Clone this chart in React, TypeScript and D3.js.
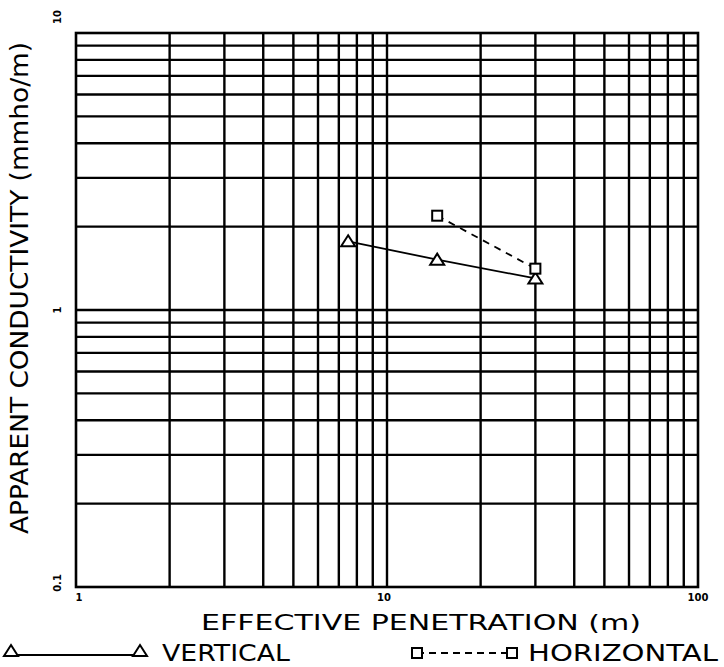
import * as d3 from 'd3'

// effective penetration (m) / apparent conductivity (mmho/m)
const verticalDepth = [7.5, 14.5, 30]
const verticalCond = [1.77, 1.52, 1.3]
const horizontalDepth = [14.5, 30]
const horizontalCond = [2.19, 1.41]

const xTickLabels = ['1', '10', '100']
const yTickLabels = ['0.1', '1', '10']

const W = 724
const H = 667
const margin = { left: 76, right: 26, top: 33, bottom: 80 }

const x = d3.scaleLog().domain([1, 100]).range([margin.left, W - margin.right])
const y = d3.scaleLog().domain([0.1, 10]).range([H - margin.bottom, margin.top])

const xGrid = [2, 3, 4, 5, 6, 7, 8, 9, 20, 30, 40, 50, 60, 70, 80, 90]
const yGrid = [0.2, 0.3, 0.4, 0.5, 0.6, 0.7, 0.8, 0.9, 2, 3, 4, 5, 6, 7, 8, 9]

const font = '"DejaVu Sans", sans-serif'

const Triangle = ({ cx, cy }: { cx: number; cy: number }) => (
  <path
    d={`M${cx},${cy - 6}L${cx + 7},${cy + 5}L${cx - 7},${cy + 5}Z`}
    fill="#fff"
    stroke="#000"
    strokeWidth={2}
  />
)

const Square = ({ cx, cy }: { cx: number; cy: number }) => (
  <rect x={cx - 5} y={cy - 5} width={10} height={10} fill="#fff" stroke="#000" strokeWidth={2} />
)

export default function App() {
  const line = d3
    .line<[number, number]>()
    .x((d) => x(d[0]))
    .y((d) => y(d[1]))

  const vPts = verticalDepth.map((d, i) => [d, verticalCond[i]] as [number, number])
  const hPts = horizontalDepth.map((d, i) => [d, horizontalCond[i]] as [number, number])

  const [x0, x1] = x.range()
  const [y0, y1] = y.range()

  return (
    <svg width={W} height={H} style={{ position: 'absolute', left: 0, top: 0, background: '#fff' }}>
      {/* grid */}
      {xGrid.map((v) => (
        <line key={'x' + v} x1={x(v)} x2={x(v)} y1={y0} y2={y1} stroke="#000" strokeWidth={2.4} />
      ))}
      {yGrid.map((v) => (
        <line key={'y' + v} x1={x0} x2={x1} y1={y(v)} y2={y(v)} stroke="#000" strokeWidth={2.4} />
      ))}
      <line x1={x(10)} x2={x(10)} y1={y0} y2={y1} stroke="#000" strokeWidth={2.4} />
      <line x1={x0} x2={x1} y1={y(1)} y2={y(1)} stroke="#000" strokeWidth={2.4} />
      <rect x={x0} y={y1} width={x1 - x0} height={y0 - y1} fill="none" stroke="#000" strokeWidth={2.6} />

      {/* tick labels */}
      {xTickLabels.map((t) => (
        <text
          key={'xt' + t}
          x={x(+t) + (t === '1' ? 3 : t === '100' ? 0 : -3)}
          y={y0 + 14}
          fontFamily={font}
          fontSize={10}
          fontWeight="bold"
          textAnchor="middle"
        >
          {t}
        </text>
      ))}
      {yTickLabels.map((t) => {
        const cy = t === '10' ? y1 - 16 : t === '0.1' ? y0 - 4 : y(+t)
        return (
          <text
            key={'yt' + t}
            transform={`translate(61,${cy}) rotate(-90)`}
            fontFamily={font}
            fontSize={10}
            fontWeight="bold"
            textAnchor="middle"
          >
            {t}
          </text>
        )
      })}

      {/* series */}
      <path d={line(vPts) ?? ''} fill="none" stroke="#000" strokeWidth={1.8} />
      <path d={line(hPts) ?? ''} fill="none" stroke="#000" strokeWidth={1.8} strokeDasharray="7,6" />
      {vPts.map((p, i) => (
        <Triangle key={'v' + i} cx={x(p[0])} cy={y(p[1])} />
      ))}
      {hPts.map((p, i) => (
        <Square key={'h' + i} cx={x(p[0])} cy={y(p[1])} />
      ))}

      {/* axis titles */}
      <text
        transform={`translate(28,288) rotate(-90)`}
        fontFamily={font}
        fontSize={24}
        textAnchor="middle"
        textLength={492}
        lengthAdjust="spacingAndGlyphs"
      >
        APPARENT CONDUCTIVITY (mmho/m)
      </text>
      <text
        x={421}
        y={630}
        fontFamily={font}
        fontSize={22}
        textAnchor="middle"
        textLength={440}
        lengthAdjust="spacingAndGlyphs"
      >
        EFFECTIVE PENETRATION (m)
      </text>

      {/* legend */}
      <line x1={11} x2={140} y1={655} y2={655} stroke="#000" strokeWidth={1.8} />
      <Triangle cx={11} cy={651} />
      <Triangle cx={140} cy={651} />
      <text x={162} y={661} fontFamily={font} fontSize={23} textLength={128} lengthAdjust="spacingAndGlyphs">
        VERTICAL
      </text>
      <line x1={417} x2={512} y1={653} y2={653} stroke="#000" strokeWidth={1.8} strokeDasharray="7,5" />
      <Square cx={417} cy={653} />
      <Square cx={512} cy={653} />
      <text x={528} y={661} fontFamily={font} fontSize={23} textLength={190} lengthAdjust="spacingAndGlyphs">
        HORIZONTAL
      </text>
    </svg>
  )
}
